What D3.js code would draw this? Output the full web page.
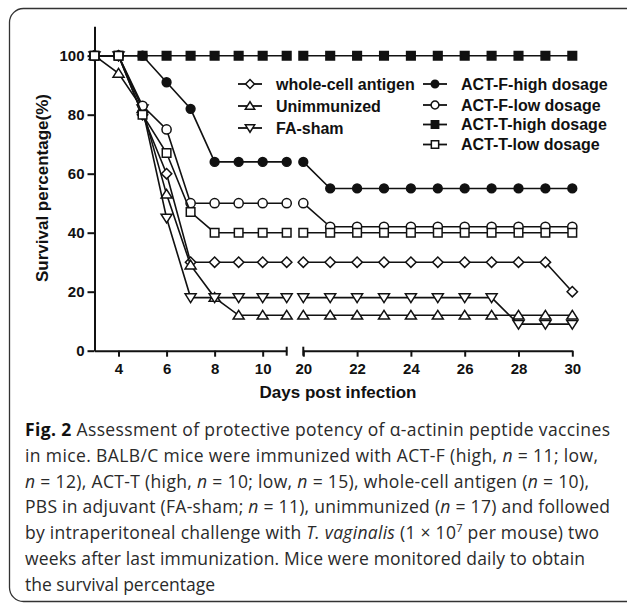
<!DOCTYPE html>
<html lang="en">
<head>
    <meta charset="UTF-8">
    <title>Fig. 2 survival percentage</title>
    <script src="https://d3js.org/d3.v7.min.js"></script>
    <style>
        body {
            margin: 0;
            background: #fff;
        }
        svg {
            display: block;
        }
        .chart text {
            font-family: "Liberation Sans", Arial, sans-serif;
            font-weight: bold;
            fill: #111;
        }
        .caption text {
            font-family: "Open Sans", "Noto Sans", sans-serif;
            font-size: 17.5px;
            fill: #2a2a2a;
        }
    </style>
</head>
<body>
<svg width="627" height="607"></svg>

<script>
    // days observed (axis is broken between 11 and 20)
    const days = [3, 4, 5, 6, 7, 8, 9, 10, 11, 20, 21, 22, 23, 24, 25, 26, 27, 28, 29, 30];

    // survival (%) per group
    const wholeCell   = [100, 100, 80, 60, 30, 30, 30, 30, 30, 30, 30, 30, 30, 30, 30, 30, 30, 30, 30, 20];
    const unimmunized = [100, 94, 82, 53, 29, 18, 12, 12, 12, 12, 12, 12, 12, 12, 12, 12, 12, 12, 12, 12];
    const faSham      = [100, 100, 82, 45, 18, 18, 18, 18, 18, 18, 18, 18, 18, 18, 18, 18, 18, 9, 9, 9];
    const actFHigh    = [100, 100, 100, 91, 82, 64, 64, 64, 64, 64, 55, 55, 55, 55, 55, 55, 55, 55, 55, 55];
    const actFLow     = [100, 100, 83, 75, 50, 50, 50, 50, 50, 50, 42, 42, 42, 42, 42, 42, 42, 42, 42, 42];
    const actTHigh    = [100, 100, 100, 100, 100, 100, 100, 100, 100, 100, 100, 100, 100, 100, 100, 100, 100, 100, 100, 100];
    const actTLow     = [100, 100, 80, 67, 47, 40, 40, 40, 40, 40, 40, 40, 40, 40, 40, 40, 40, 40, 40, 40];

    const seriesNames = ["whole-cell antigen", "Unimmunized", "FA-sham",
        "ACT-F-high dosage", "ACT-F-low dosage", "ACT-T-high dosage", "ACT-T-low dosage"];
    const seriesValues = [wholeCell, unimmunized, faSham, actFHigh, actFLow, actTHigh, actTLow];

    const yTicks = [0, 20, 40, 60, 80, 100];
    const xTicksLeft = [4, 6, 8, 10];
    const xTicksRight = [20, 22, 24, 26, 28, 30];

    const svg = d3.select("svg");

    // rounded frame, its right side runs off the page
    svg.append("rect")
        .attr("x", 9.5).attr("y", 8.5)
        .attr("width", 700).attr("height", 593)
        .attr("rx", 14)
        .attr("fill", "none")
        .attr("stroke", "#333")
        .attr("stroke-width", 1.3);

    const chart = svg.append("g").attr("class", "chart");

    // scales
    const y = d3.scaleLinear().domain([0, 110]).range([350.7, 26.2]);
    const xL = d3.scaleLinear().domain([3, 11]).range([94.5, 286.7]);
    const xR = d3.scaleLinear().domain([20, 30]).range([303.3, 572.3]);
    const x = d => d <= 11 ? xL(d) : xR(d);

    // custom marker shapes (size = half width)
    const shapes = {
        diamond: {draw(ctx, r) { ctx.moveTo(0, -r); ctx.lineTo(r, 0); ctx.lineTo(0, r); ctx.lineTo(-r, 0); ctx.closePath(); }},
        triUp:   {draw(ctx, r) { ctx.moveTo(0, -r); ctx.lineTo(r * 1.1, r * 0.75); ctx.lineTo(-r * 1.1, r * 0.75); ctx.closePath(); }},
        triDown: {draw(ctx, r) { ctx.moveTo(0, r); ctx.lineTo(r * 1.1, -r * 0.75); ctx.lineTo(-r * 1.1, -r * 0.75); ctx.closePath(); }},
        circle:  {draw(ctx, r) { ctx.moveTo(r, 0); ctx.arc(0, 0, r, 0, 2 * Math.PI); }},
        square:  {draw(ctx, r) { ctx.rect(-r, -r, 2 * r, 2 * r); }}
    };
    const styles = [
        {shape: shapes.diamond, r: 5.2, fill: "#fff"},
        {shape: shapes.triUp, r: 5, fill: "#fff"},
        {shape: shapes.triDown, r: 5, fill: "#fff"},
        {shape: shapes.circle, r: 4.4, fill: "#111"},
        {shape: shapes.circle, r: 4.6, fill: "#fff"},
        {shape: shapes.square, r: 4.3, fill: "#111"},
        {shape: shapes.square, r: 4.3, fill: "#fff"}
    ];

    // axes
    const yAxis = chart.append("g")
        .attr("transform", "translate(" + xL(3) + ",0)")
        .call(d3.axisLeft(y).tickValues(yTicks).tickSize(7).tickPadding(3).tickSizeOuter(0));

    const xAxisL = chart.append("g")
        .attr("transform", "translate(0," + y(0) + ")")
        .call(d3.axisBottom(xL).tickValues(xTicksLeft).tickSize(6).tickPadding(7).tickSizeOuter(0));

    const xAxisR = chart.append("g")
        .attr("transform", "translate(0," + y(0) + ")")
        .call(d3.axisBottom(xR).tickValues(xTicksRight).tickSize(6).tickPadding(7).tickSizeOuter(0));

    [yAxis, xAxisL, xAxisR].forEach(function (g) {
        g.selectAll("path, line").attr("stroke", "#111").attr("stroke-width", 2);
        g.selectAll("text").style("font-size", "15px").attr("fill", "#111");
    });

    // end caps of the axis break
    chart.selectAll(".cap")
        .data([xL(11), xR(20)])
        .enter().append("line")
        .attr("x1", d => d).attr("x2", d => d)
        .attr("y1", y(0) - 4).attr("y2", y(0) + 5)
        .attr("stroke", "#111").attr("stroke-width", 2);

    // axis titles
    chart.append("text")
        .attr("x", 338).attr("y", 398)
        .attr("text-anchor", "middle")
        .style("font-size", "17px")
        .text("Days post infection");

    chart.append("text")
        .attr("transform", "translate(48,188) rotate(-90)")
        .attr("text-anchor", "middle")
        .style("font-size", "17px")
        .text("Survival percentage(%)");

    // lines and markers
    const line = d3.line().x(d => x(d.day)).y(d => y(d.v));

    seriesValues.forEach(function (vals, i) {
        const pts = days.map((d, j) => ({day: d, v: vals[j]}));
        const segs = [pts.filter(p => p.day <= 11), pts.filter(p => p.day >= 20)];
        const g = chart.append("g");
        g.selectAll("path.seg")
            .data(segs)
            .enter().append("path")
            .attr("d", line)
            .attr("fill", "none")
            .attr("stroke", "#111")
            .attr("stroke-width", 1.6);
        const st = styles[i];
        g.selectAll("path.mark")
            .data(pts)
            .enter().append("path")
            .attr("transform", p => "translate(" + x(p.day) + "," + y(p.v) + ")")
            .attr("d", d3.symbol().type(st.shape).size(st.r))
            .attr("fill", st.fill)
            .attr("stroke", "#111")
            .attr("stroke-width", 1.5);
    });

    // legend
    const legendPos = [
        {mx: 250, y: 84}, {mx: 250, y: 106}, {mx: 250, y: 128},
        {mx: 435, y: 84}, {mx: 435, y: 105}, {mx: 435, y: 124.5}, {mx: 435, y: 144.5}
    ];
    const legend = chart.append("g");
    seriesNames.forEach(function (name, i) {
        const p = legendPos[i], st = styles[i];
        legend.append("line")
            .attr("x1", p.mx - 12).attr("x2", p.mx + 12)
            .attr("y1", p.y).attr("y2", p.y)
            .attr("stroke", "#111").attr("stroke-width", 1.8);
        legend.append("path")
            .attr("transform", "translate(" + p.mx + "," + p.y + ")")
            .attr("d", d3.symbol().type(st.shape).size(st.r * 0.85))
            .attr("fill", st.fill)
            .attr("stroke", "#111")
            .attr("stroke-width", 1.5);
        legend.append("text")
            .attr("x", p.mx + 26).attr("y", p.y + 5.5)
            .style("font-size", "16px")
            .text(name);
    });

    // caption
    const cap = svg.append("g").attr("class", "caption");
    const capLines = [
        [["Fig. 2", "b"], [" Assessment of protective potency of α-actinin peptide vaccines", ""]],
        [["in mice. BALB/C mice were immunized with ACT-F (high, ", ""], ["n", "i"], [" = 11; low,", ""]],
        [["n", "i"], [" = 12), ACT-T (high, ", ""], ["n", "i"], [" = 10; low, ", ""], ["n", "i"], [" = 15), whole-cell antigen (", ""], ["n", "i"], [" = 10),", ""]],
        [["PBS in adjuvant (FA-sham; ", ""], ["n", "i"], [" = 11), unimmunized (", ""], ["n", "i"], [" = 17) and followed", ""]],
        [["by intraperitoneal challenge with ", ""], ["T. vaginalis", "i"], [" (1 × 10", ""], ["7", "sup"], [" per mouse) two", ""]],
        [["weeks after last immunization. Mice were monitored daily to obtain", ""]],
        [["the survival percentage", ""]]
    ];
    const capWidths = [585, 573, 564, 585, 574, 560, null];

    capLines.forEach(function (parts, i) {
        const t = cap.append("text")
            .attr("x", 25)
            .attr("y", 436 + i * 25.8);
        if (capWidths[i]) t.attr("textLength", capWidths[i]).attr("lengthAdjust", "spacing");
        parts.forEach(function (pt) {
            const s = t.append("tspan").text(pt[0]);
            if (pt[1] === "b") s.style("font-weight", "bold").style("fill", "#111");
            if (pt[1] === "i") s.style("font-style", "italic");
            if (pt[1] === "sup") {
                s.attr("dy", -7).style("font-size", "11px");
            }
        });
        // undo the superscript shift for the rest of the line
        t.selectAll("tspan").each(function (d, k, nodes) {
            if (k > 0 && nodes[k - 1].textContent === "7") d3.select(this).attr("dy", 7);
        });
    });
</script>
</body>
</html>
